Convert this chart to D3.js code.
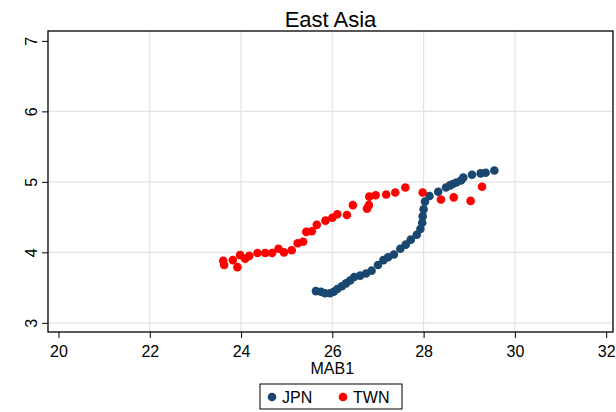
<!DOCTYPE html>
<html>
<head>
<meta charset="utf-8">
<script src="https://cdn.jsdelivr.net/npm/d3@7"></script>
<style>
	body { margin: 0; background: #fff; }
	svg { display: block; font-family: "Liberation Sans", Arial, sans-serif; }
</style>
</head>
<body>
<div id="chart"></div>
<script>
// values
var jpnX = [25.64, 25.75, 25.84, 25.95, 26.03, 26.11, 26.21, 26.30, 26.39, 26.48,
	26.61, 26.74, 26.86, 27.00, 27.12, 27.22, 27.35, 27.49, 27.61, 27.72,
	27.85, 27.93, 27.97, 27.98, 28.00, 28.03, 28.13, 28.32, 28.49, 28.58,
	28.64, 28.72, 28.82, 28.87, 29.06, 29.25, 29.36, 29.55];
var jpnY = [3.45, 3.44, 3.42, 3.42, 3.44, 3.48, 3.52, 3.56, 3.60, 3.65,
	3.67, 3.70, 3.74, 3.82, 3.89, 3.93, 3.97, 4.05, 4.11, 4.18,
	4.25, 4.33, 4.42, 4.51, 4.61, 4.72, 4.80, 4.86, 4.92, 4.95,
	4.97, 4.99, 5.02, 5.06, 5.10, 5.12, 5.13, 5.16];
var twnX = [23.61, 23.63, 23.82, 23.92, 23.98, 24.09, 24.18, 24.36, 24.53, 24.68,
	24.82, 24.94, 25.11, 25.24, 25.36, 25.43, 25.55, 25.66, 25.85, 26.00,
	26.11, 26.32, 26.45, 26.76, 26.80, 26.81, 26.95, 27.18, 27.38, 27.60,
	27.98, 28.38, 28.66, 29.03, 29.28];
var twnY = [3.88, 3.82, 3.89, 3.79, 3.96, 3.91, 3.95, 3.99, 3.99, 3.99,
	4.05, 4.00, 4.03, 4.13, 4.15, 4.29, 4.30, 4.39, 4.45, 4.49,
	4.54, 4.53, 4.67, 4.62, 4.67, 4.79, 4.81, 4.82, 4.85, 4.92,
	4.85, 4.75, 4.78, 4.73, 4.93];
var xTicks = [20, 22, 24, 26, 28, 30, 32];
var yTicks = [3, 4, 5, 6, 7];
var xGrid = [22, 24, 26, 28, 30];
var yGrid = [3, 4, 5, 6];
var seriesNames = ["JPN", "TWN"];
var seriesColors = ["#1a476f", "#ff0000"];

var width = 616, height = 412,
	plotLeft = 48, plotRight = 613, plotTop = 31, plotBottom = 332;

var svg = d3.select("#chart").append("svg")
	.attr("width", width)
	.attr("height", height);

var x = d3.scaleLinear().domain([19.77, 32.15]).range([plotLeft, plotRight]);
var y = d3.scaleLinear().domain([2.87, 7.14]).range([plotBottom, plotTop]);

// grid lines
svg.selectAll("line.xgrid")
	.data(xGrid)
	.enter()
	.append("line")
	.attr("x1", function (d) { return x(d); })
	.attr("x2", function (d) { return x(d); })
	.attr("y1", plotTop)
	.attr("y2", plotBottom)
	.style("stroke", "#e3e3e3")
	.style("stroke-width", 1.2);

svg.selectAll("line.ygrid")
	.data(yGrid)
	.enter()
	.append("line")
	.attr("x1", plotLeft)
	.attr("x2", plotRight)
	.attr("y1", function (d) { return y(d); })
	.attr("y2", function (d) { return y(d); })
	.style("stroke", "#e3e3e3")
	.style("stroke-width", 1.2);

// axes
var xAxis = svg.append("g")
	.attr("transform", "translate(0," + plotBottom + ")")
	.call(d3.axisBottom(x).tickValues(xTicks).tickSize(6).tickFormat(d3.format("d")));
xAxis.select(".domain").remove();
xAxis.selectAll("text")
	.attr("y", 14)
	.style("font-size", "16px")
	.style("font-family", "Liberation Sans, Arial, sans-serif")
	.style("fill", "#000");

var yAxis = svg.append("g")
	.attr("transform", "translate(" + plotLeft + ",0)")
	.call(d3.axisLeft(y).tickValues(yTicks).tickSize(6).tickFormat(d3.format("d")));
yAxis.select(".domain").remove();
yAxis.selectAll("text")
	.attr("x", 0)
	.attr("y", -11)
	.attr("dy", 0)
	.attr("transform", "rotate(-90)")
	.style("text-anchor", "middle")
	.style("font-size", "16px")
	.style("font-family", "Liberation Sans, Arial, sans-serif")
	.style("fill", "#000");

// plot region border
svg.append("rect")
	.attr("x", plotLeft)
	.attr("y", plotTop)
	.attr("width", plotRight - plotLeft)
	.attr("height", plotBottom - plotTop)
	.style("fill", "none")
	.style("stroke", "#000")
	.style("stroke-width", 1.3);

// points
function addSeries(xs, ys, color) {
	svg.append("g").selectAll("circle")
		.data(xs)
		.enter()
		.append("circle")
		.attr("cx", function (d) { return x(d); })
		.attr("cy", function (d, i) { return y(ys[i]); })
		.attr("r", 4.3)
		.style("fill", color);
}
addSeries(jpnX, jpnY, seriesColors[0]);
addSeries(twnX, twnY, seriesColors[1]);

// titles
svg.append("text")
	.attr("x", (plotLeft + plotRight) / 2)
	.attr("y", 27)
	.style("text-anchor", "middle")
	.style("font-size", "22px")
	.text("East Asia");

svg.append("text")
	.attr("x", x(26))
	.attr("y", 374)
	.style("text-anchor", "middle")
	.style("font-size", "16px")
	.text("MAB1");

// legend
var legend = svg.append("g").attr("transform", "translate(260,384)");
legend.append("rect")
	.attr("width", 142)
	.attr("height", 25)
	.style("fill", "#fff")
	.style("stroke", "#000")
	.style("stroke-width", 1);

var legendOffsets = [12, 83];
seriesNames.forEach(function (name, i) {
	legend.append("circle")
		.attr("cx", legendOffsets[i])
		.attr("cy", 13)
		.attr("r", 4.3)
		.style("fill", seriesColors[i]);
	legend.append("text")
		.attr("x", legendOffsets[i] + 10)
		.attr("y", 19)
		.style("font-size", "16px")
		.text(name);
});
</script>
</body>
</html>
